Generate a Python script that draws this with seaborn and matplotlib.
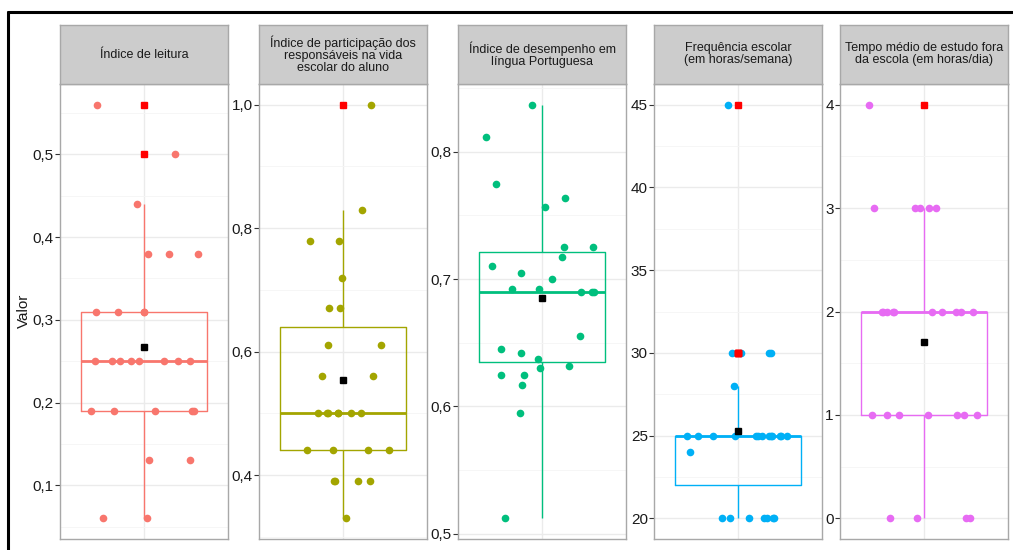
import numpy as np
import matplotlib.pyplot as plt
import seaborn as sns
from matplotlib.lines import Line2D

sns.set_theme(style="white")
plt.rcParams['font.family'] = ['Liberation Sans', 'DejaVu Sans']

titulos = [
    "Índice de leitura",
    "Índice de participação dos\nresponsáveis na vida\nescolar do aluno",
    "Índice de desempenho em\nlíngua Portuguesa",
    "Frequência escolar\n(em horas/semana)",
    "Tempo médio de estudo fora\nda escola (em horas/dia)",
]

leitura = [0.56, 0.50, 0.44, 0.38, 0.38, 0.38, 0.31, 0.31, 0.31, 0.31,
           0.25, 0.25, 0.25, 0.25, 0.25, 0.25, 0.25, 0.25,
           0.19, 0.19, 0.19, 0.19, 0.19, 0.13, 0.13, 0.06, 0.06]
participacao = [1.00, 0.83, 0.78, 0.78, 0.72, 0.67, 0.67, 0.61, 0.61, 0.56, 0.56,
                0.50, 0.50, 0.50, 0.50, 0.50, 0.50, 0.50,
                0.44, 0.44, 0.44, 0.44, 0.39, 0.39, 0.39, 0.39, 0.33]
desempenho = [0.837, 0.812, 0.775, 0.764, 0.757, 0.725, 0.725, 0.717, 0.710, 0.705,
              0.700, 0.692, 0.690, 0.690, 0.690, 0.692, 0.655, 0.645, 0.642, 0.637,
              0.632, 0.630, 0.625, 0.625, 0.617, 0.595, 0.512]
frequencia = [45, 30, 30, 30, 30, 28,
              25, 25, 25, 25, 25, 25, 25, 25, 25, 25, 25, 25, 25,
              24, 20, 20, 20, 20, 20, 20, 20]
tempo = [4, 3, 3, 3, 3, 3, 2, 2, 2, 2, 2, 2, 2, 2, 2, 2,
         1, 1, 1, 1, 1, 1, 1, 0, 0, 0, 0]

series = [leitura, participacao, desempenho, frequencia, tempo]
cores = ['#F8766D', '#A3A500', '#00BF7D', '#00B0F6', '#E76BF3']
marcas = [[0.1, 0.2, 0.3, 0.4, 0.5],
          [0.4, 0.6, 0.8, 1.0],
          [0.5, 0.6, 0.7, 0.8],
          [20, 25, 30, 35, 40, 45],
          [0, 1, 2, 3, 4]]
decimais = [True, True, True, False, False]

W, H = 1013, 550
fig = plt.figure(figsize=(W / 100, H / 100), dpi=100)
esquerdas = [60, 259, 458, 654, 840]
larg = 168
topo_strip, base_strip, base_painel = 25, 84, 539

np.random.seed(7)
for i, vals in enumerate(series):
    x0 = esquerdas[i] / W
    ax = fig.add_axes([x0, (H - base_painel) / H, larg / W, (base_painel - base_strip) / H])
    st = fig.add_axes([x0, (H - base_strip) / H, larg / W, (base_strip - topo_strip) / H])

    cor = cores[i]
    sns.boxplot(y=vals, ax=ax, color=cor, fill=False, width=0.9, linewidth=1,
                medianprops=dict(linewidth=2, color=cor),
                capprops=dict(linewidth=0),
                flierprops=dict(marker='s', markerfacecolor='red', markeredgecolor='red',
                                markersize=5, zorder=5))
    sns.stripplot(y=vals, ax=ax, color=cor, jitter=0.4, size=5.5, linewidth=0, zorder=3)
    ax.plot([0], [np.mean(vals)], marker='s', color='black', markersize=5, zorder=6,
            linestyle='none')

    m = marcas[i]
    passo = m[1] - m[0]
    ax.set_yticks(m)
    if decimais[i]:
        ax.set_yticklabels([f"{v:.1f}".replace('.', ',') for v in m])
    else:
        ax.set_yticklabels([str(v) for v in m])
    menores = [m[0] - passo / 2] + [v + passo / 2 for v in m]
    ax.set_yticks(menores, minor=True)
    ax.set_xticks([0])

    # limites no estilo ggplot (5% de folga), depois dos ticks
    lo, hi = min(vals), max(vals)
    r = hi - lo
    ax.set_ylim(lo - 0.05 * r, hi + 0.05 * r)
    ax.set_xlim(-0.6, 0.6)

    ax.grid(True, which='major', color='#EBEBEB', linewidth=1)
    ax.grid(True, which='minor', axis='y', color='#F5F5F5', linewidth=0.6)
    ax.set_axisbelow(True)
    ax.tick_params(axis='x', length=0, labelbottom=False)
    ax.tick_params(axis='y', which='major', left=True, length=3.5, width=0.8,
                   color='#333333', labelsize=11, labelcolor='#1A1A1A', pad=1)
    ax.tick_params(axis='y', which='minor', left=False)
    ax.set_xlabel('')
    ax.set_ylabel('')
    for sp in ax.spines.values():
        sp.set_color('#A8A8A8')
        sp.set_linewidth(1)

    st.set_facecolor('#CCCCCC')
    st.set_xticks([])
    st.set_yticks([])
    for sp in st.spines.values():
        sp.set_color('#A8A8A8')
        sp.set_linewidth(1)
    st.text(0.5, 0.5, titulos[i], ha='center', va='center', fontsize=9,
            color='#1A1A1A', transform=st.transAxes, linespacing=1.0)

fig.text(24 / W, 1 - 311 / H, 'Valor', rotation=90, ha='center', va='center',
         fontsize=11, color='#1A1A1A')

fig.add_artist(Line2D([8 / W, 1012 / W], [1 - 12 / H, 1 - 12 / H], color='black',
                      linewidth=2.2, transform=fig.transFigure))
fig.add_artist(Line2D([8 / W, 8 / W], [0, 1 - 12 / H], color='black',
                      linewidth=2.2, transform=fig.transFigure))

fig.savefig('out.png', dpi=100)
